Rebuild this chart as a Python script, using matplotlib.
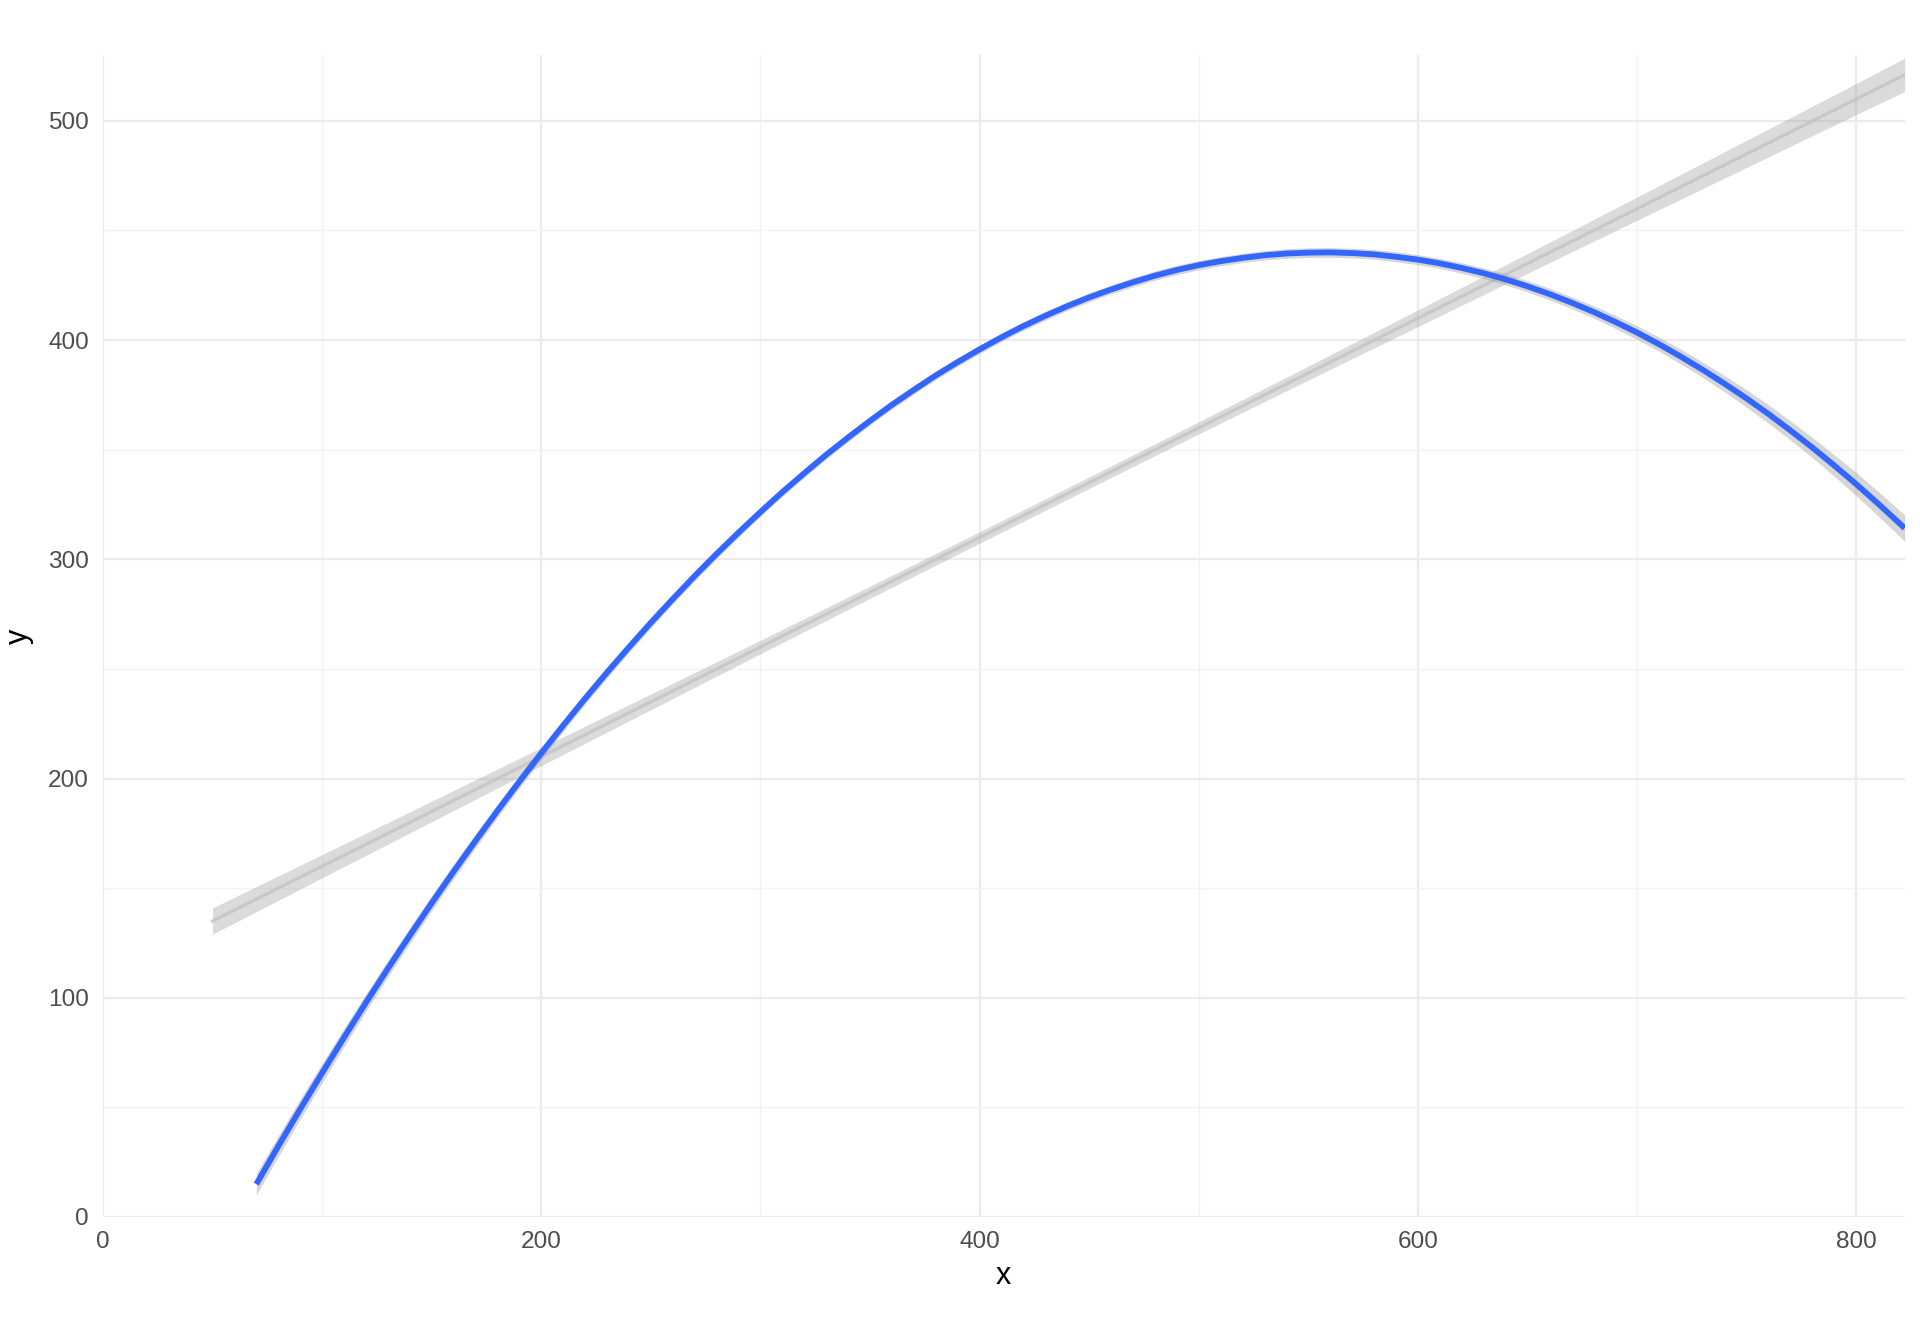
import matplotlib
matplotlib.use('Agg')
import matplotlib.pyplot as plt

plt.rcParams['font.family'] = ['Liberation Sans', 'DejaVu Sans']

# straight fit (grey band with its centre line)
lin_x = [50, 100, 150, 200, 250, 300, 350, 400, 450, 500, 550, 600, 650, 700, 750, 800, 822]
lin_y = [135, 160, 185, 210, 235, 260, 285, 310, 335, 360, 385, 410, 435, 460, 485, 510, 521]
lin_se = [6.0, 5.3, 4.7, 4.1, 3.6, 3.1, 2.8, 2.6, 2.6, 2.8, 3.2, 3.8, 4.5, 5.3, 6.2, 7.1, 7.6]

# curved fit (blue line), read every 10 units of x
quad_x = list(range(70, 821, 10)) + [822]
quad_y = [15.0, 32.3, 49.2, 65.7, 81.9, 97.8, 113.3, 128.4, 143.2, 157.6,
          171.6, 185.3, 198.6, 211.6, 224.2, 236.5, 248.4, 259.9, 271.1, 281.9,
          292.4, 302.5, 312.2, 321.6, 330.7, 339.3, 347.7, 355.6, 363.2, 370.5,
          377.3, 383.9, 390.0, 395.8, 401.3, 406.4, 411.1, 415.5, 419.5, 423.1,
          426.4, 429.4, 432.0, 434.2, 436.0, 437.5, 438.7, 439.5, 439.9, 440.0,
          439.7, 439.1, 438.0, 436.7, 435.0, 432.9, 430.5, 427.7, 424.5, 421.0,
          417.1, 412.9, 408.3, 403.4, 398.1, 392.4, 386.4, 380.0, 373.3, 366.2,
          358.7, 350.9, 342.7, 334.2, 325.3, 316.1, 314.2]
quad_se = [5.0, 4.8, 4.6, 4.4, 4.2, 4.0, 3.8, 3.6, 3.5, 3.3,
           3.2, 3.0, 2.9, 2.8, 2.7, 2.6, 2.5, 2.4, 2.3, 2.2,
           2.2, 2.1, 2.1, 2.0, 2.0, 1.9, 1.9, 1.9, 1.9, 1.9,
           1.9, 1.9, 1.9, 1.9, 1.9, 2.0, 2.0, 2.0, 2.0, 2.0,
           2.1, 2.1, 2.1, 2.1, 2.1, 2.1, 2.1, 2.2, 2.2, 2.2,
           2.2, 2.2, 2.3, 2.3, 2.3, 2.4, 2.4, 2.5, 2.6, 2.7,
           2.7, 2.8, 3.0, 3.1, 3.2, 3.4, 3.5, 3.7, 4.0, 4.2,
           4.4, 4.6, 4.9, 5.3, 5.6, 5.9, 6.0]

x_major = [0, 200, 400, 600, 800]
x_minor = [100, 300, 500, 700]
y_major = [0, 100, 200, 300, 400, 500]
y_minor = [50, 150, 250, 350, 450]

fig = plt.figure(figsize=(9.6, 6.72), dpi=200)
ax = fig.add_axes([0.0536, 0.0945, 0.9384, 0.8645])

for v in x_major:
    ax.axvline(v, color='#ebebeb', lw=0.8, zorder=0)
for v in x_minor:
    ax.axvline(v, color='#f3f3f3', lw=0.5, zorder=0)
for v in y_major:
    ax.axhline(v, color='#ebebeb', lw=0.8, zorder=0)
for v in y_minor:
    ax.axhline(v, color='#f3f3f3', lw=0.5, zorder=0)

lo = [y - s for y, s in zip(lin_y, lin_se)]
hi = [y + s for y, s in zip(lin_y, lin_se)]
ax.fill_between(lin_x, lo, hi, color='#999999', alpha=0.35, lw=0, zorder=2)
ax.plot(lin_x, lin_y, color='#c4c4c4', lw=1.2, alpha=0.8, zorder=2)

lo = [y - s for y, s in zip(quad_y, quad_se)]
hi = [y + s for y, s in zip(quad_y, quad_se)]
ax.fill_between(quad_x, lo, hi, color='#999999', alpha=0.4, lw=0, zorder=3)
ax.plot(quad_x, quad_y, color='#3366FF', lw=2.1, zorder=4, solid_capstyle='butt')

ax.set_xlim(0, 822)
ax.set_ylim(0, 530)
ax.set_xticks(x_major)
ax.set_yticks(y_major)
ax.tick_params(length=0, labelsize=8.8, labelcolor='#4d4d4d', pad=5)
for s in ax.spines.values():
    s.set_visible(False)

ax.set_xlabel('x', fontsize=11, labelpad=3)
ax.set_ylabel('y', fontsize=11, labelpad=5)

fig.savefig('out.png', dpi=200, facecolor='white')
